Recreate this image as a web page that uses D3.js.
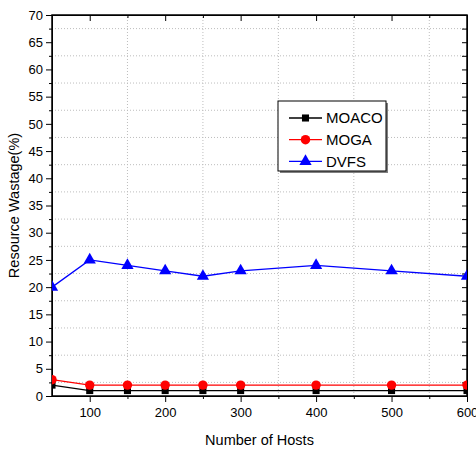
<!DOCTYPE html>
<html lang="en">
<head>
<meta charset="UTF-8">
<title>Resource Wastage vs Number of Hosts</title>
<script src="https://d3js.org/d3.v7.min.js"></script>
<style>
    body { margin: 0; background: #fff; }
    text { font-family: "Liberation Sans", Arial, sans-serif; fill: #000; }
    .grid line { stroke: #bdbdbd; stroke-width: 1; stroke-dasharray: 1,2; }
    .axis path, .axis line { stroke: #000; }
</style>
</head>
<body>
<div id="chart"></div>
<script>
    // data
    var hosts = [50, 100, 150, 200, 250, 300, 400, 500, 600];
    var moaco = [2, 1, 1, 1, 1, 1, 1, 1, 1];
    var moga  = [3, 2, 2, 2, 2, 2, 2, 2, 2];
    var dvfs  = [20, 25, 24, 23, 22, 23, 24, 23, 22];
    var xTicks = [100, 200, 300, 400, 500, 600];
    var yTicks = d3.range(0, 71, 5);

    var seriesList = [
        {name: "MOACO", values: moaco, color: "#000000", shape: d3.symbolSquare, size: 50},
        {name: "MOGA",  values: moga,  color: "#ff0000", shape: d3.symbolCircle, size: 70},
        {name: "DVFS",  values: dvfs,  color: "#0000ff", shape: d3.symbolTriangle, size: 65}
    ];

    var width = 476, height = 452;
    var margin = {top: 15, right: 9, bottom: 56, left: 52};

    var svg = d3.select("#chart").append("svg")
        .attr("width", width)
        .attr("height", height);

    var x = d3.scaleLinear().domain([50, 600]).range([margin.left, width - margin.right]);
    var y = d3.scaleLinear().domain([0, 70]).range([height - margin.bottom, margin.top]);

    var minorX = d3.range(150, 600, 100);
    var minorY = d3.range(2.5, 70, 5);

    // dotted grid sits on the minor positions
    var grid = svg.append("g").attr("class", "grid");
    grid.selectAll(".gx").data(minorX).enter().append("line")
        .attr("x1", d => x(d)).attr("x2", d => x(d))
        .attr("y1", y(0)).attr("y2", y(70));
    grid.selectAll(".gy").data(minorY).enter().append("line")
        .attr("y1", d => y(d)).attr("y2", d => y(d))
        .attr("x1", x(50)).attr("x2", x(600));

    svg.append("defs").append("clipPath").attr("id", "plot")
        .append("rect")
        .attr("x", x(50)).attr("y", y(70) - 10)
        .attr("width", x(600) - x(50)).attr("height", y(0) - y(70) + 10);

    // axes
    svg.append("g").attr("class", "axis")
        .attr("transform", "translate(0," + y(0) + ")")
        .call(d3.axisBottom(x).tickValues(xTicks).tickSize(6).tickSizeOuter(0))
        .call(g => g.selectAll("text").style("font-size", "13px").attr("dy", "0.95em"));
    svg.append("g").attr("class", "axis")
        .attr("transform", "translate(0," + y(0) + ")")
        .call(d3.axisBottom(x).tickValues(minorX).tickSize(3).tickFormat("").tickSizeOuter(0));

    svg.append("g").attr("class", "axis")
        .attr("transform", "translate(" + x(50) + ",0)")
        .call(d3.axisLeft(y).tickValues(yTicks).tickSize(6).tickSizeOuter(0))
        .call(g => g.selectAll("text").style("font-size", "13px"));
    svg.append("g").attr("class", "axis")
        .attr("transform", "translate(" + x(50) + ",0)")
        .call(d3.axisLeft(y).tickValues(minorY).tickSize(3).tickFormat("").tickSizeOuter(0));

    svg.append("g").attr("class", "axis")
        .attr("transform", "translate(0," + y(70) + ")")
        .call(d3.axisBottom(x).tickValues(xTicks).tickSize(6).tickFormat("").tickSizeOuter(0));
    svg.append("g").attr("class", "axis")
        .attr("transform", "translate(0," + y(70) + ")")
        .call(d3.axisBottom(x).tickValues(minorX).tickSize(3).tickFormat("").tickSizeOuter(0));

    svg.append("g").attr("class", "axis")
        .attr("transform", "translate(" + x(600) + ",0)")
        .call(d3.axisLeft(y).tickValues(yTicks).tickSize(5).tickFormat("").tickSizeOuter(0));
    svg.append("g").attr("class", "axis")
        .attr("transform", "translate(" + x(600) + ",0)")
        .call(d3.axisLeft(y).tickValues(minorY).tickSize(5).tickFormat("").tickSizeOuter(0));

    // frame
    svg.append("rect")
        .attr("x", x(50)).attr("y", y(70))
        .attr("width", x(600) - x(50)).attr("height", y(0) - y(70))
        .attr("fill", "none").attr("stroke", "#000").attr("stroke-width", 1.5);

    // series
    var line = d3.line().x((d, i) => x(hosts[i])).y(d => y(d));
    var plot = svg.append("g").attr("clip-path", "url(#plot)");
    seriesList.forEach(function(s) {
        plot.append("path")
            .attr("d", line(s.values))
            .attr("fill", "none")
            .attr("stroke", s.color)
            .attr("stroke-width", 1.3);
        plot.selectAll(null).data(s.values).enter().append("path")
            .attr("d", d3.symbol().type(s.shape).size(s.size))
            .attr("transform", (d, i) => "translate(" + x(hosts[i]) + "," + y(d) + ")")
            .attr("fill", s.color);
    });

    // legend
    var lg = svg.append("g").attr("transform", "translate(278,101)");
    lg.append("rect").attr("x", 2).attr("y", 2).attr("width", 108).attr("height", 70).attr("fill", "#808080");
    lg.append("rect").attr("width", 108).attr("height", 70).attr("fill", "#fff").attr("stroke", "#000");
    seriesList.forEach(function(s, i) {
        var yy = 17 + i * 21.7;
        lg.append("line").attr("x1", 11).attr("x2", 44).attr("y1", yy).attr("y2", yy)
            .attr("stroke", s.color).attr("stroke-width", 1.3);
        lg.append("path")
            .attr("d", d3.symbol().type(s.shape).size(s.size))
            .attr("transform", "translate(27.5," + yy + ")")
            .attr("fill", s.color);
        lg.append("text").attr("x", 48).attr("y", yy).attr("dy", "0.36em")
            .style("font-size", "15px").text(s.name);
    });

    // axis titles
    svg.append("text")
        .attr("x", (x(50) + x(600)) / 2).attr("y", 445)
        .attr("text-anchor", "middle")
        .style("font-size", "14.5px")
        .text("Number of Hosts");
    svg.append("text")
        .attr("transform", "translate(19," + (y(35)) + ") rotate(-90)")
        .attr("text-anchor", "middle")
        .style("font-size", "14.5px")
        .text("Resource Wastage(%)");
</script>
</body>
</html>
